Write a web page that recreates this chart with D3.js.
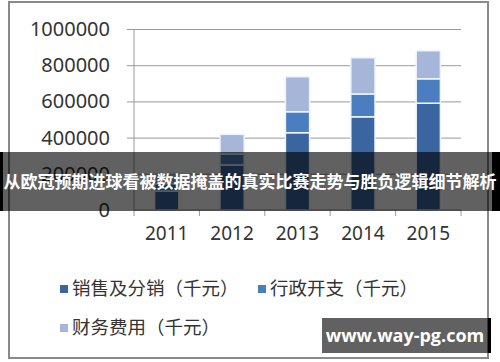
<!DOCTYPE html>
<html>
<head>
<meta charset="utf-8">
<script src="https://cdn.jsdelivr.net/npm/d3@7"></script>
<style>
  body { margin: 0; background: #fff; }
  svg { display: block; }
</style>
</head>
<body>
<div id="chart"></div>
<script>
// data
const years = ['2011', '2012', '2013', '2014', '2015'];
const sales = [105000, 249000, 427000, 515000, 590000];
const admin = [40000, 60000, 116000, 126000, 135000];
const finance = [60000, 109000, 193000, 200000, 155000];
const seriesNames = ['销售及分销（千元）', '行政开支（千元）', '财务费用（千元）'];
const yTicks = [0, 200000, 400000, 600000, 800000, 1000000];
const bannerText = '从欧冠预期进球看被数据掩盖的真实比赛走势与胜负逻辑细节解析';
const watermark = 'www.way-pg.com';

const W = 500, H = 362;
const margin = { top: 29, right: 39, bottom: 152, left: 134 };
const colors = ['#3b659f', '#4a7ec0', '#a5b6d9'];
const font = '"Noto Sans", "Noto Sans CJK SC", sans-serif';

const svg = d3.select('#chart')
    .append('svg')
    .attr('width', W)
    .attr('height', H);

// outer frame
svg.append('rect')
    .attr('x', 9).attr('y', 2)
    .attr('width', 479).attr('height', 356)
    .attr('fill', '#fff')
    .attr('stroke', '#8a8a8a')
    .attr('stroke-width', 2);

const width = W - margin.left - margin.right;
const height = 210 - margin.top;

const g = svg.append('g')
    .attr('transform', `translate(${margin.left},${margin.top})`);

const x = d3.scaleBand().domain(years).range([0, width]).paddingInner(0.63).paddingOuter(0.315);
const y = d3.scaleLinear().domain([0, 1000000]).range([height, 0]);

// gridlines + y labels
const yAxis = g.append('g')
    .call(d3.axisLeft(y).tickValues(yTicks).tickSize(-width).tickPadding(24).tickFormat(d3.format('d')));
yAxis.select('.domain').remove();
yAxis.selectAll('.tick line').attr('stroke', '#9a9a9a').attr('x1', -7);
yAxis.selectAll('.tick text')
    .attr('fill', '#333')
    .style('font-family', font)
    .style('font-size', '20px');
yAxis.selectAll('.tick').filter(d => d === 0).select('line').remove();

// stacked bars
const rows = years.map((yr, i) => ({ year: yr, s: sales[i], a: admin[i], f: finance[i] }));
const stacked = d3.stack().keys(['s', 'a', 'f'])(rows);

g.selectAll('g.layer')
    .data(stacked)
    .enter()
    .append('g')
    .attr('class', 'layer')
    .attr('fill', (d, i) => colors[i])
    .selectAll('rect')
    .data(d => d)
    .enter()
    .append('rect')
    .attr('x', d => x(d.data.year))
    .attr('y', d => y(d[1]))
    .attr('width', x.bandwidth())
    .attr('height', d => y(d[0]) - y(d[1]))
    .attr('stroke', '#eef4fb')
    .attr('stroke-width', 1.5);

// x axis
const step = x.step();
const xAxis = g.append('g')
    .attr('transform', `translate(0,${height})`);
xAxis.append('line')
    .attr('x1', 0).attr('x2', width)
    .attr('stroke', '#9a9a9a');
xAxis.selectAll('line.tk')
    .data(d3.range(years.length + 1))
    .enter()
    .append('line')
    .attr('class', 'tk')
    .attr('x1', d => d * step).attr('x2', d => d * step)
    .attr('y1', 0).attr('y2', 6)
    .attr('stroke', '#9a9a9a');
xAxis.selectAll('text')
    .data(years)
    .enter()
    .append('text')
    .attr('x', d => x(d) + x.bandwidth() / 2)
    .attr('y', 30)
    .attr('text-anchor', 'middle')
    .attr('fill', '#333')
    .style('font-family', font)
    .style('font-size', '19px')
    .text(d => d);

// y axis line
g.append('line')
    .attr('x1', 0).attr('x2', 0)
    .attr('y1', 0).attr('y2', height)
    .attr('stroke', '#9a9a9a');

// legend
const legendPos = [[60, 289], [258, 289], [60, 328]];
const legend = svg.selectAll('g.legend')
    .data(seriesNames)
    .enter()
    .append('g')
    .attr('class', 'legend')
    .attr('transform', (d, i) => `translate(${legendPos[i][0]},${legendPos[i][1]})`);
legend.append('rect')
    .attr('x', 0).attr('y', -4)
    .attr('width', 8).attr('height', 8)
    .attr('fill', (d, i) => colors[i]);
legend.append('text')
    .attr('x', 12)
    .attr('y', 6)
    .attr('fill', '#333')
    .style('font-family', font)
    .style('font-size', '18.5px')
    .text(d => d);

// overlay banner
svg.append('rect')
    .attr('x', 0).attr('y', 152)
    .attr('width', W).attr('height', 59)
    .attr('fill', '#000')
    .attr('fill-opacity', 0.62);
svg.append('rect').attr('x', 0).attr('y', 152).attr('width', 3).attr('height', 59).attr('fill', '#000');
svg.append('rect').attr('x', 492).attr('y', 152).attr('width', 8).attr('height', 59).attr('fill', '#000');
svg.append('text')
    .attr('x', W / 2)
    .attr('y', 188)
    .attr('text-anchor', 'middle')
    .attr('fill', '#fff')
    .style('font-family', '"Noto Sans CJK SC", sans-serif')
    .style('font-weight', 'bold')
    .style('font-size', '17px')
    .text(bannerText);

// watermark
svg.append('rect')
    .attr('x', 322).attr('y', 318)
    .attr('width', 166).attr('height', 35)
    .attr('fill', '#000')
    .attr('fill-opacity', 0.62);
svg.append('rect').attr('x', 488).attr('y', 318).attr('width', 3).attr('height', 35).attr('fill', '#000');
svg.append('text')
    .attr('x', 405)
    .attr('y', 342)
    .attr('text-anchor', 'middle')
    .attr('fill', '#fff')
    .style('font-family', '"Open Sans", sans-serif')
    .style('font-weight', 'bold')
    .style('font-size', '18px')
    .text(watermark);
</script>
</body>
</html>
